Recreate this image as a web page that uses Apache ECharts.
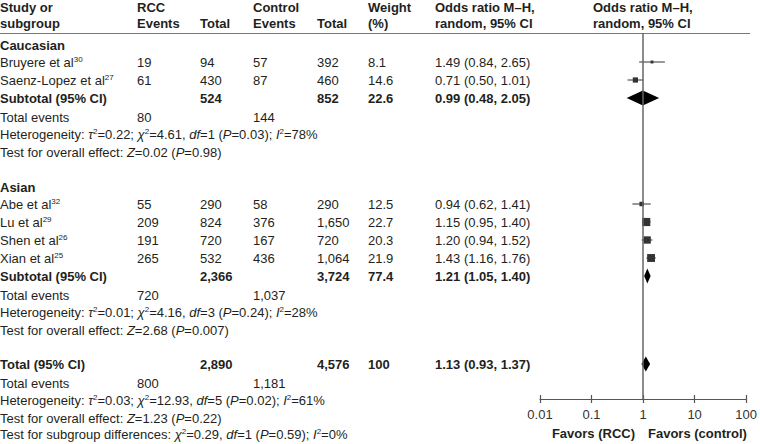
<!DOCTYPE html>
<html>
<head>
<meta charset="utf-8">
<script src="https://cdn.jsdelivr.net/npm/echarts@6/dist/echarts.min.js"></script>
<style>
html, body { margin: 0; padding: 0; background: #fff; }
#chart { width: 760px; height: 444px; }
</style>
</head>
<body>
<div id="chart"></div>
<script>
// study level data
var studyNames = ['Bruyere et al', 'Saenz-Lopez et al', 'Abe et al', 'Lu et al', 'Shen et al', 'Xian et al'];
var studyRefs = ['30', '27', '32', '29', '26', '25'];
var rccEvents = [19, 61, 55, 209, 191, 265];
var rccTotal = [94, 430, 290, 824, 720, 532];
var ctrlEvents = [57, 87, 58, 376, 167, 436];
var ctrlTotal = ['392', '460', '290', '1,650', '720', '1,064'];
var weights = [8.1, 14.6, 12.5, 22.7, 20.3, 21.9];
var oddsRatio = [1.49, 0.71, 0.94, 1.15, 1.20, 1.43];
var ciLow = [0.84, 0.50, 0.62, 0.95, 0.94, 1.16];
var ciHigh = [2.65, 1.01, 1.41, 1.40, 1.52, 1.76];

// subtotals: Caucasian, Asian, overall
var groupNames = ['Caucasian', 'Asian'];
var sumLabels = ['Subtotal (95% CI)', 'Subtotal (95% CI)', 'Total (95% CI)'];
var sumRccTotal = ['524', '2,366', '2,890'];
var sumCtrlTotal = ['852', '3,724', '4,576'];
var sumWeight = ['22.6', '77.4', '100'];
var sumOR = [0.99, 1.21, 1.13];
var sumLow = [0.48, 1.05, 0.93];
var sumHigh = [2.05, 1.40, 1.37];
var sumRccEvents = ['80', '720', '800'];
var sumCtrlEvents = ['144', '1,037', '1,181'];
var tau2 = ['0.22', '0.01', '0.03'];
var chi2 = ['4.61', '4.16', '12.93'];
var dfs = [1, 3, 5];
var pHet = ['0.03', '0.24', '0.02'];
var iSq = [78, 28, 61];
var zVal = ['0.02', '2.68', '1.23'];
var pZ = ['0.98', '0.007', '0.22'];

var tickLabels = ['0.01', '0.1', '1', '10', '100'];

// layout (row centres in px, column x in px)
var studyRowY = [62, 80, 204, 222, 240, 258];
var sumRowY = [98, 276, 364];
var groupRowY = [45, 187];
var colX = { name: 0, rccE: 137, rccT: 200, ctlE: 253, ctlT: 317, w: 368, or: 435 };

var FONT = 'Liberation Sans, Arial, Helvetica, sans-serif';
var INK = '#231f20';
var rich = {
	sup: { fontFamily: FONT, fontSize: 8, verticalAlign: 'top', fill: INK },
	i: { fontFamily: FONT, fontSize: 13, fontStyle: 'italic', fill: INK }
};

function txt(x, y, s, bold, align) {
	return {
		type: 'text', x: x, y: y, silent: true,
		style: {
			text: s, fontFamily: FONT, fontSize: 13, fontWeight: bold ? 'bold' : 'normal',
			fill: INK, align: align || 'left', verticalAlign: 'middle', rich: rich
		}
	};
}
function fmt(v) { return v.toFixed(2); }

var g = [];
// header
g.push(txt(0, 7, 'Study or', true), txt(0, 23, 'subgroup', true));
g.push(txt(colX.rccE, 7, 'RCC', true), txt(colX.rccE, 23, 'Events', true));
g.push(txt(colX.rccT, 23, 'Total', true));
g.push(txt(colX.ctlE, 7, 'Control', true), txt(colX.ctlE, 23, 'Events', true));
g.push(txt(colX.ctlT, 23, 'Total', true));
g.push(txt(colX.w, 7, 'Weight', true), txt(colX.w, 23, '(%)', true));
g.push(txt(colX.or, 7, 'Odds ratio M–H,', true), txt(colX.or, 23, 'random, 95% CI', true));
g.push(txt(593, 7, 'Odds ratio M–H,', true), txt(593, 23, 'random, 95% CI', true));
g.push({ type: 'line', silent: true, shape: { x1: 0, y1: 33.5, x2: 750, y2: 33.5 }, style: { stroke: '#777', lineWidth: 1.2 } });

groupNames.forEach(function(n, i) { g.push(txt(0, groupRowY[i], n, true)); });

studyNames.forEach(function(n, i) {
	var y = studyRowY[i];
	g.push(txt(colX.name, y, n + '{sup|' + studyRefs[i] + '}'));
	g.push(txt(colX.rccE, y, String(rccEvents[i])));
	g.push(txt(colX.rccT, y, String(rccTotal[i])));
	g.push(txt(colX.ctlE, y, String(ctrlEvents[i])));
	g.push(txt(colX.ctlT, y, ctrlTotal[i]));
	g.push(txt(colX.w, y, weights[i].toFixed(1)));
	g.push(txt(colX.or, y, fmt(oddsRatio[i]) + ' (' + fmt(ciLow[i]) + ', ' + fmt(ciHigh[i]) + ')'));
});

sumLabels.forEach(function(n, i) {
	var y = sumRowY[i];
	g.push(txt(colX.name, y, n, true));
	g.push(txt(colX.rccT, y, sumRccTotal[i], true));
	g.push(txt(colX.ctlT, y, sumCtrlTotal[i], true));
	g.push(txt(colX.w, y, sumWeight[i], true));
	g.push(txt(colX.or, y, fmt(sumOR[i]) + ' (' + fmt(sumLow[i]) + ', ' + fmt(sumHigh[i]) + ')', true));
	g.push(txt(colX.name, y + 19, 'Total events'));
	g.push(txt(colX.rccE, y + 19, sumRccEvents[i]));
	g.push(txt(colX.ctlE, y + 19, sumCtrlEvents[i]));
	g.push(txt(colX.name, y + 36, 'Heterogeneity: {i|τ}{sup|2}=' + tau2[i] + '; {i|χ}{sup|2}=' + chi2[i] +
		', {i|df}=' + dfs[i] + ' ({i|P}=' + pHet[i] + '); {i|I}{sup|2}=' + iSq[i] + '%'));
	g.push(txt(colX.name, y + 54, 'Test for overall effect: {i|Z}=' + zVal[i] + ' ({i|P}=' + pZ[i] + ')'));
});
g.push(txt(0, 434, 'Test for subgroup differences: {i|χ}{sup|2}=0.29, {i|df}=1 ({i|P}=0.59); {i|I}{sup|2}=0%'));

g.push(txt(635, 433, 'Favors (RCC)', true, 'right'));
g.push(txt(648, 433, 'Favors (control)', true, 'left'));

var studyData = studyNames.map(function(n, i) {
	return [oddsRatio[i], ciLow[i], ciHigh[i], studyRowY[i], weights[i]];
});
var sumData = sumLabels.map(function(n, i) {
	return [sumOR[i], sumLow[i], sumHigh[i], sumRowY[i]];
});

var logAxis = {
	type: 'log', logBase: 10, min: 0.01, max: 100, position: 'bottom',
	splitLine: { show: false }
};

var chart = echarts.init(document.getElementById('chart'), null, { renderer: 'svg' });
chart.setOption({
	animation: false,
	grid: { left: 540, top: 33, width: 209, height: 366, containLabel: false },
	xAxis: [
		echarts.util.merge({
			axisLine: { lineStyle: { color: '#555', width: 1.2 } },
			axisTick: { length: 4, lineStyle: { color: '#555', width: 1.2 } },
			axisLabel: {
				margin: 9, fontFamily: FONT, fontSize: 13, color: '#333',
				formatter: function(v) {
					var k = Math.round(Math.log10(v)) + 2;
					return tickLabels[k] !== undefined ? tickLabels[k] : '';
				}
			}
		}, logAxis, true),
		echarts.util.merge({
			axisLine: { show: false },
			axisTick: { inside: true, length: 4, lineStyle: { color: '#555', width: 1.2 } },
			axisLabel: { show: false }
		}, logAxis, true)
	],
	yAxis: { type: 'value', min: 33, max: 399, inverse: true, show: false },
	graphic: g,
	series: [
		{
			type: 'custom', xAxisIndex: 0, data: studyData, encode: { x: 0, y: 3 },
			renderItem: function(params, api) {
				var y = api.value(3);
				var c = api.coord([api.value(0), y]);
				var l = api.coord([api.value(1), y]);
				var h = api.coord([api.value(2), y]);
				var s = api.value(4) * 0.36;
				return {
					type: 'group', children: [
						{ type: 'line', shape: { x1: l[0], y1: c[1], x2: h[0], y2: c[1] }, style: { stroke: '#333', lineWidth: 1 } },
						{ type: 'rect', shape: { x: c[0] - s / 2, y: c[1] - s / 2, width: s, height: s }, style: { fill: '#333' } }
					]
				};
			},
			markLine: {
				silent: true, symbol: 'none', label: { show: false },
				lineStyle: { color: '#666', type: 'solid', width: 1.5 },
				data: [{ xAxis: 1 }]
			},
			z: 3
		},
		{
			type: 'custom', xAxisIndex: 0, data: sumData, encode: { x: 0, y: 3 },
			renderItem: function(params, api) {
				var y = api.value(3);
				var c = api.coord([api.value(0), y]);
				var l = api.coord([api.value(1), y]);
				var h = api.coord([api.value(2), y]);
				var d = 7.5;
				return {
					type: 'polygon',
					shape: { points: [[l[0], c[1]], [c[0], c[1] - d], [h[0], c[1]], [c[0], c[1] + d]] },
					style: { fill: '#000' }
				};
			},
			z: 4
		}
	]
});
</script>
</body>
</html>
